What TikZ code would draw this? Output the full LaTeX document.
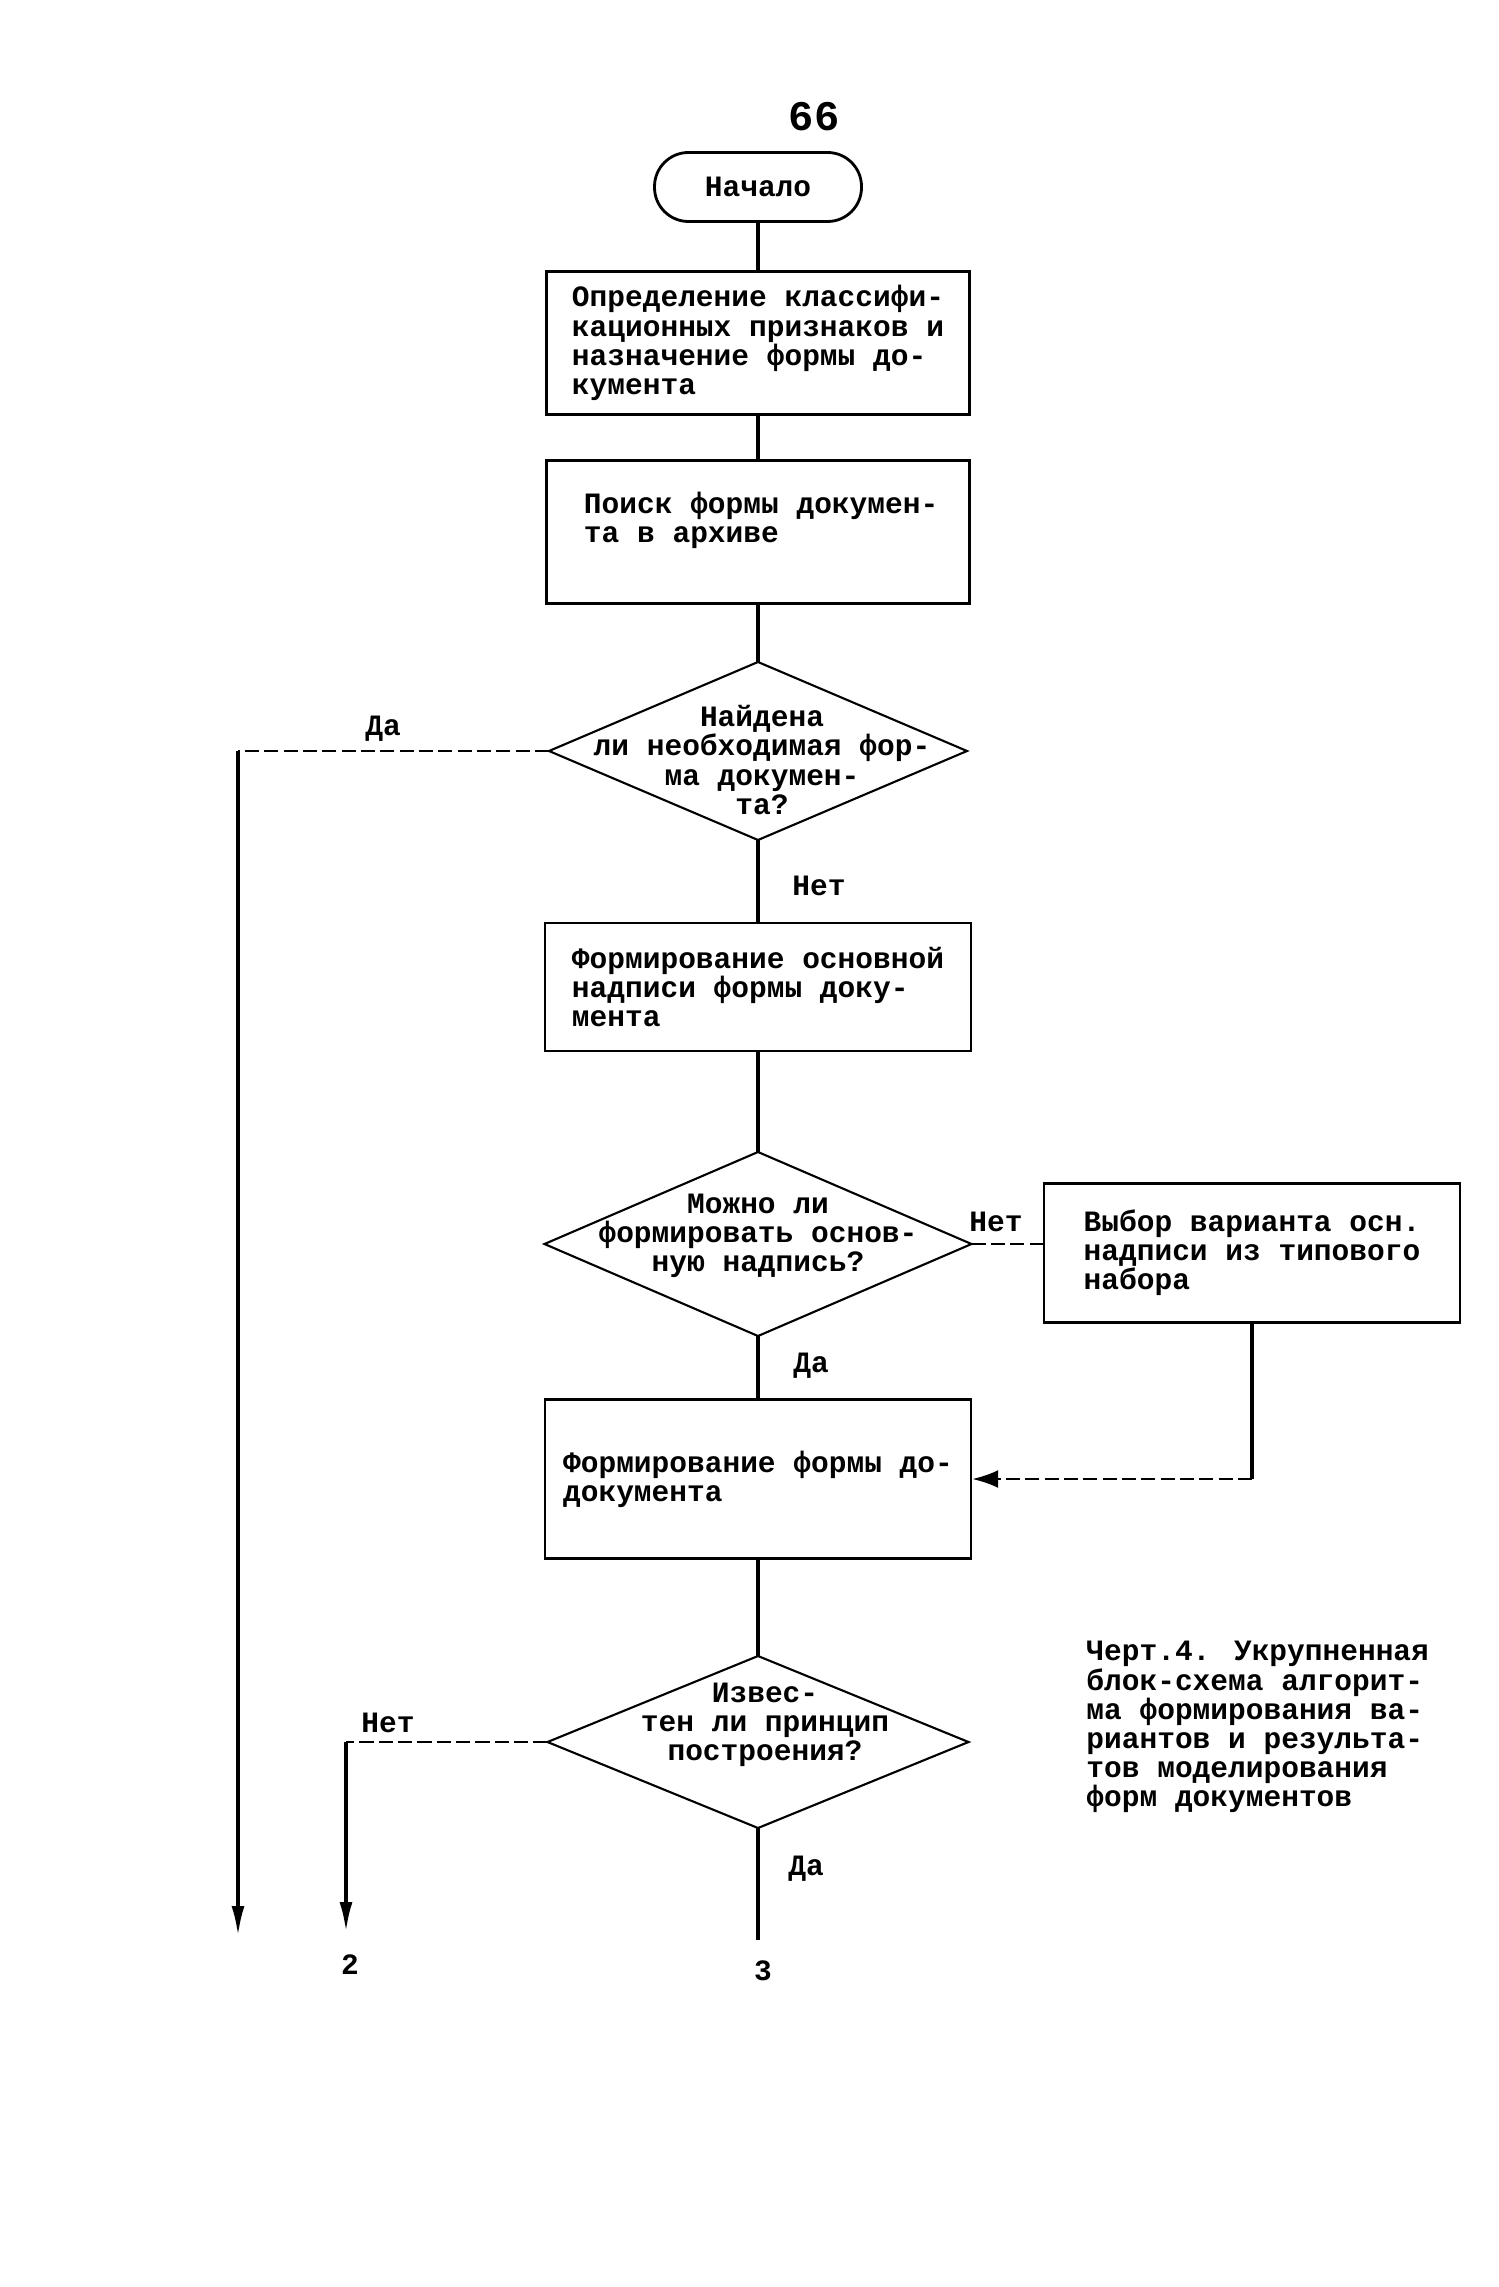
\documentclass[tikz,border=0pt]{standalone}
\usepackage{fontspec}
\newfontfamily\drawfont{Liberation Mono}
\usetikzlibrary{arrows.meta,shapes.geometric,calc}

\begin{document}
\begin{tikzpicture}[
    font=\drawfont\bfseries\fontsize{8.4}{8.3}\selectfont,
    blk/.style={draw, line width=0.7pt, inner sep=0pt, align=left},
    term/.style={draw, line width=0.8pt, rounded corners=0.34cm, inner sep=0pt},
    dec/.style={draw, diamond, line width=0.6pt, inner sep=0pt, outer sep=0pt},
    ln/.style={line width=1pt},
    dl/.style={line width=0.7pt, dash pattern=on 4pt off 1.5pt},
    endtip/.style={-{Latex[length=3mm,width=1.3mm]}},
    lb/.style={inner sep=1pt}
  ]
    \useasboundingbox (0,0) rectangle (14.99,-22.87);

    \node[lb] (pg) at (8.14,-1.17) {\fontsize{12}{12}\selectfont 66};
    \node[term, minimum width=2.07cm, minimum height=0.69cm] (start) at (7.58,-1.87) {Начало};
    \node[blk, minimum width=4.23cm, minimum height=1.43cm] (b1) at (7.58,-3.43)
      {Определение классифи-\\кационных признаков и\\назначение формы до-\\кумента};
    \node[blk, minimum width=4.23cm, minimum height=1.43cm] (b2) at (7.58,-5.32) {};
    \node[anchor=north west, align=left, inner sep=0pt] (b2t) at ($(b2.north west)+(0.38,-0.32)$)
      {Поиск формы докумен-\\та в архиве};
    \node[dec, minimum width=4.18cm, minimum height=1.78cm] (d1) at (7.58,-7.51) {};
    \node[align=center] (d1t) at (7.62,-7.60) {Найдена\\ли необходимая фор-\\ма докумен-\\та?};
    \node[blk, minimum width=4.26cm, minimum height=1.28cm] (b3) at (7.58,-9.87)
      {Формирование основной\\надписи формы доку-\\мента};
    \node[dec, minimum width=4.27cm, minimum height=1.84cm] (d2) at (7.58,-12.44) {};
    \node[align=center] (d2t) at (7.58,-12.36) {Можно ли\\формировать основ-\\ную надпись?};
    \node[blk, minimum width=4.16cm, minimum height=1.39cm] (b4) at (12.52,-12.53)
      {Выбор варианта осн.\\надписи из типового\\набора};
    \node[blk, minimum width=4.26cm, minimum height=1.59cm] (b5) at (7.58,-14.79)
      {Формирование формы до-\\документа};
    \node[dec, minimum width=4.21cm, minimum height=1.72cm] (d3) at (7.58,-17.42) {};
    \node[align=center] (d3t) at (7.65,-17.25) {Извес-\\тен ли принцип\\построения?};

    \node[anchor=north west, align=left] (cap) at (10.74,-16.29)
      {Черт.4. Укрупненная\\блок-схема алгорит-\\ма формирования ва-\\риантов и результа-\\тов моделирования\\форм документов};

    % branch ends below the picture
    \coordinate (c1) at (2.38,-7.51);
    \coordinate (e1) at (2.38,-19.36);
    \coordinate (c3) at (3.46,-17.42);
    \coordinate (e3) at (3.46,-19.32);
    \coordinate (e5) at (7.58,-19.40);
    \coordinate (k) at (b4.south |- b5.east);

    \draw[ln] (start) -- (b1);
    \draw[ln] (b1) -- (b2);
    \draw[ln] (b2) -- (d1);
    \draw[ln] (d1) -- (b3);
    \draw[ln] (b3) -- (d2);
    \draw[ln] (d2) -- (b5);
    \draw[ln] (b5) -- (d3);
    \draw[ln] (d3.south) -- (e5);

    \draw[dl] (d1.west) -- (c1);
    \draw[ln, endtip] (c1) -- (e1);
    \draw[dl] (d3.west) -- (c3);
    \draw[ln, endtip] (c3) -- (e3);
    \draw[dl] (d2.east) -- (d2.east -| b4.west);
    \draw[ln] (b4.south) -- (k);
    \draw[dl, -{Latex[length=2.6mm,width=1.8mm]}] (k) -- (b5.east);

    \node[lb] (da1) at (3.83,-7.29) {Да};
    \node[lb] (net1) at (8.19,-8.86) {Нет};
    \node[lb] (net2) at (9.96,-12.22) {Нет};
    \node[lb] (da2) at (8.11,-13.66) {Да};
    \node[lb] (net3) at (3.88,-17.23) {Нет};
    \node[lb] (da3) at (8.06,-18.69) {Да};
    \node[lb] (m2) at (3.50,-19.65) {2};
    \node[lb] (m3) at (7.63,-19.71) {3};
  \end{tikzpicture}
\end{document}
